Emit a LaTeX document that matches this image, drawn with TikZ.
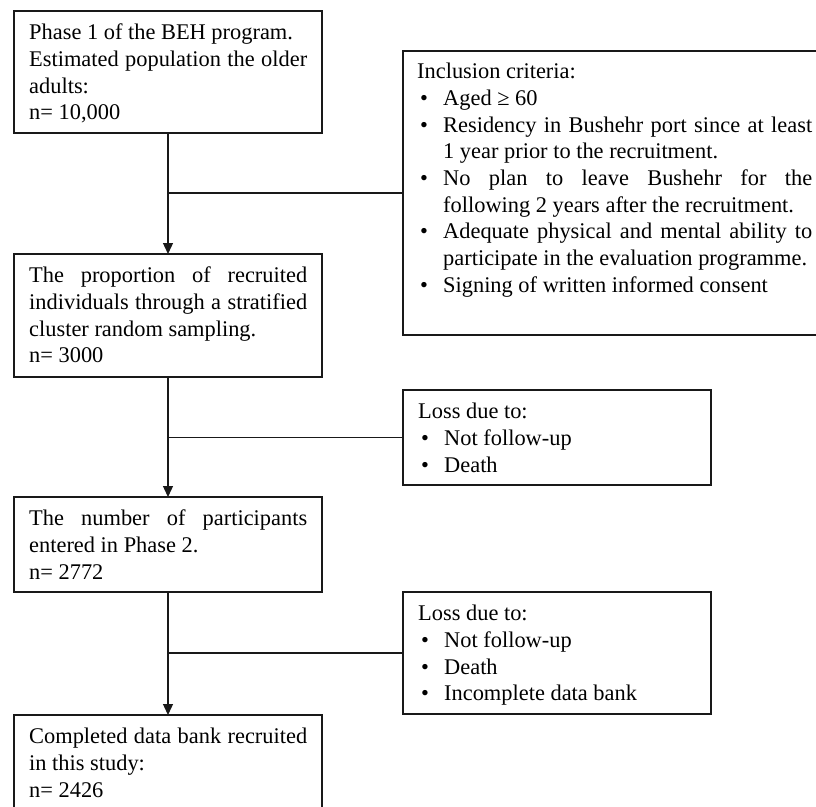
\documentclass[tikz,border=0pt]{standalone}
\usepackage{fontspec}
\setmainfont{Liberation Serif}
\usetikzlibrary{arrows.meta,calc}
\newcommand{\bitem}[1]{\par\noindent\hangindent=26pt\hangafter=1\makebox[26pt][l]{\hspace{3pt}\textbullet}#1}
\newcommand{\fstrut}{\rule{0pt}{20pt}}
\begin{document}
\begin{tikzpicture}[x=1pt,y=-1pt,
  box/.style={draw=black!90, line width=1.7pt, inner sep=0pt, outer sep=0pt, anchor=north west},
  txt/.style={anchor=north west, inner sep=0pt, text width=#1, align=justify,
    font=\fontsize{22.4pt}{26.7pt}\selectfont},
  conn/.style={draw=black!90, line width=1.3pt},
  arr/.style={conn, -{Triangle[length=11pt,width=10pt]}}]
\useasboundingbox (0,0) rectangle (816,806);
\clip (0,0) rectangle (816,806);
% boxes
\node[box, minimum width=308pt, minimum height=122pt] (b1) at (14,11) {};
\node[box, minimum width=308pt, minimum height=123pt] (b3) at (14,254) {};
\node[box, minimum width=308pt, minimum height=95pt] (b5) at (14,497) {};
\node[box, minimum width=308pt, minimum height=110pt] (b7) at (14,715) {};
\node[box, minimum width=423pt, minimum height=284pt] (b2) at (403,51) {};
\node[box, minimum width=308pt, minimum height=95pt] (b4) at (403,390) {};
\node[box, minimum width=308pt, minimum height=122pt] (b6) at (403,592) {};
% texts
\node[txt=278pt] (t1) at ($(b1.north west)+(15,8.5)$) {\fstrut Phase 1 of the BEH program.\newline Estimated population the older\linebreak adults:\newline n= 10,000};
\node[txt=278pt] (t3) at ($(b3.north west)+(15,8.5)$) {\fstrut The proportion of recruited\linebreak individuals through a stratified\linebreak cluster random sampling.\newline n= 3000};
\node[txt=278pt] (t5) at ($(b5.north west)+(15,8.5)$) {\fstrut The number of participants\linebreak entered in Phase 2.\newline n= 2772};
\node[txt=278pt] (t7) at ($(b7.north west)+(15,8.5)$) {\fstrut Completed data bank recruited\linebreak in this study:\newline n= 2426};
\node[txt=395pt] (t2) at ($(b2.north west)+(14,7.5)$) {\noindent\fstrut Inclusion criteria:
  \bitem{Aged ≥ 60}
  \bitem{Residency in Bushehr port since at least\linebreak 1 year prior to the recruitment.}
  \bitem{No plan to leave Bushehr for the\linebreak following 2 years after the recruitment.}
  \bitem{Adequate physical and mental ability to\linebreak participate in the evaluation programme.}
  \bitem{Signing of written informed consent}};
\node[txt=278pt] (t4) at ($(b4.north west)+(15,8.5)$) {\noindent\fstrut Loss due to:
  \bitem{Not follow-up}
  \bitem{Death}};
\node[txt=278pt] (t6) at ($(b6.north west)+(15,8.5)$) {\noindent\fstrut Loss due to:
  \bitem{Not follow-up}
  \bitem{Death}
  \bitem{Incomplete data bank}};
% connectors
\draw[arr] (b1.south) -- (b3.north);
\draw[conn] (b2.west) -- (b2.west -| b1.south);
\draw[arr] (b3.south) -- (b5.north);
\draw[conn] (b4.west) -- (b4.west -| b3.south);
\draw[arr] (b5.south) -- (b7.north);
\draw[conn] (b6.west) -- (b6.west -| b5.south);
\end{tikzpicture}
\end{document}
